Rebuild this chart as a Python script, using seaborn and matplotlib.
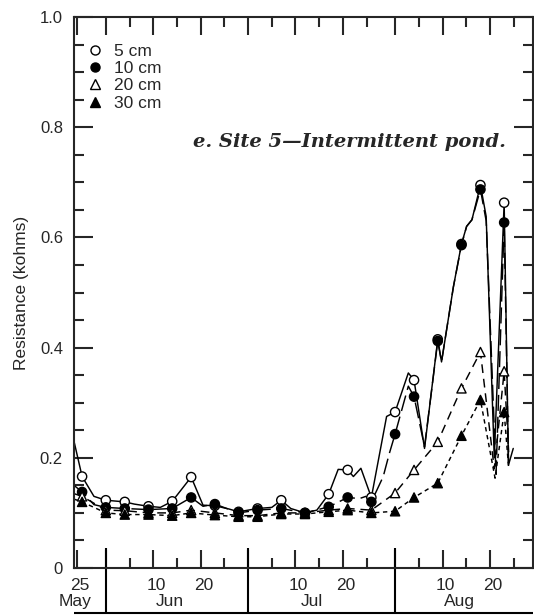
import matplotlib
matplotlib.use("Agg")
import matplotlib.pyplot as plt
import matplotlib.dates as mdates
import matplotlib.transforms as mtransforms
from matplotlib.lines import Line2D
from matplotlib.ticker import FixedLocator, MultipleLocator, FuncFormatter
import pandas as pd
import seaborn as sns

YEAR = "1993-"

depths = ["5 cm", "10 cm", "20 cm", "30 cm"]

# Probe reading dates (MM-DD)
read_dates = ["05-27", "06-01", "06-05", "06-10", "06-15", "06-19", "06-24", "06-29",
              "07-03", "07-08", "07-13", "07-18", "07-22", "07-27", "08-01", "08-05",
              "08-10", "08-15", "08-19", "08-24"]

# Resistance (kohms) at each reading date
read_5cm = [0.166, 0.123, 0.120, 0.112, 0.121, 0.165, 0.113, 0.102, 0.108, 0.123,
            0.100, 0.134, 0.178, 0.128, 0.283, 0.341, 0.415, 0.588, 0.695, 0.663]
read_10cm = [0.138, 0.110, 0.108, 0.106, 0.108, 0.128, 0.116, 0.100, 0.105, 0.108,
             0.100, 0.111, 0.128, 0.120, 0.243, 0.311, 0.412, 0.586, 0.687, 0.627]
read_20cm = [0.130, 0.105, 0.104, 0.100, 0.100, 0.105, 0.100, 0.095, 0.095, 0.100,
             0.100, 0.105, 0.108, 0.105, 0.136, 0.178, 0.229, 0.326, 0.392, 0.357]
read_30cm = [0.120, 0.100, 0.097, 0.097, 0.095, 0.100, 0.096, 0.093, 0.093, 0.098,
             0.098, 0.102, 0.105, 0.100, 0.103, 0.128, 0.154, 0.240, 0.305, 0.283]

# Additional points of the continuous record between readings
extra_5cm_dates = ["05-25 07:00", "05-29 12:00", "06-07", "06-12 12:00", "06-21 12:00",
                   "06-27", "07-06", "07-10", "07-15 12:00", "07-20", "07-23 05:00",
                   "07-24 19:00", "07-30 05:00", "08-03 19:00", "08-07 05:00",
                   "08-10 19:00", "08-13 07:00", "08-16 02:00", "08-17 05:00",
                   "08-20 05:00", "08-21 22:00", "08-24 22:00", "08-25 22:00"]
extra_5cm = [0.23, 0.13, 0.116, 0.110, 0.114, 0.107, 0.110, 0.108, 0.105, 0.179, 0.166,
             0.181, 0.275, 0.354, 0.217, 0.374, 0.51, 0.62, 0.632, 0.638, 0.20, 0.187, 0.217]

extra_10cm_dates = ["05-25 07:00", "05-29 12:00", "06-21 12:00", "07-24 12:00",
                    "07-25 20:00", "07-29 12:00", "07-30 19:00", "08-03 19:00",
                    "08-07 05:00", "08-10 19:00", "08-13 07:00", "08-16 02:00",
                    "08-17 05:00", "08-20 05:00", "08-22 07:00", "08-24 22:00"]
extra_10cm = [0.15, 0.115, 0.112, 0.126, 0.130, 0.166, 0.208, 0.33, 0.22, 0.374, 0.51,
              0.62, 0.632, 0.63, 0.17, 0.19]

extra_20cm_dates = ["05-25 07:00", "08-21 22:00", "08-24 23:00"]
extra_20cm = [0.135, 0.18, 0.21]

extra_30cm_dates = ["05-25 07:00", "08-22 02:00", "08-24 22:00"]
extra_30cm = [0.125, 0.163, 0.185]

# Axis labelling
month_starts = ["06-01", "07-01", "08-01"]
major_ticks = ["05-26", "06-01", "06-11", "06-21", "07-01", "07-11", "07-21",
               "08-01", "08-11", "08-21"]
minor_ticks = ["06-06", "06-16", "06-26", "07-06", "07-16", "07-26",
               "08-06", "08-16", "08-26"]
day_labels = ["25", "10", "20", "10", "20", "10", "20"]
day_label_pos = ["05-26", "06-11", "06-21", "07-11", "07-21", "08-11", "08-21"]
month_labels = ["May", "Jun", "Jul", "Aug"]
month_label_pos = ["05-25 12:00", "06-14 12:00", "07-14 12:00", "08-14 12:00"]
y_ticks = [0.0, 0.2, 0.4, 0.6, 0.8, 1.0]


def stamp(s):
    return pd.Timestamp(YEAR + s)


def num(s):
    return mdates.date2num(stamp(s))


sns.set_style("ticks")
plt.rcParams["font.family"] = ["Liberation Sans", "DejaVu Sans"]
plt.rcParams["axes.linewidth"] = 1.5

reads_list = [read_5cm, read_10cm, read_20cm, read_30cm]
extras = [(extra_5cm_dates, extra_5cm), (extra_10cm_dates, extra_10cm),
          (extra_20cm_dates, extra_20cm), (extra_30cm_dates, extra_30cm)]

reads = pd.concat(
    [pd.DataFrame({"date": [stamp(d) for d in read_dates], "value": v, "depth": name})
     for name, v in zip(depths, reads_list)],
    ignore_index=True)

trace = pd.concat(
    [reads] +
    [pd.DataFrame({"date": [stamp(d) for d in ed], "value": ev, "depth": name})
     for name, (ed, ev) in zip(depths, extras)],
    ignore_index=True).sort_values("date")

fig = plt.figure(figsize=(5.34, 6.16), dpi=100)
ax = fig.add_axes([74 / 534, 48 / 616, 459 / 534, 551 / 616])

dash_styles = {"5 cm": "", "10 cm": (11, 4), "20 cm": (6, 4), "30 cm": (3, 2.5)}
sns.lineplot(data=trace, x="date", y="value", style="depth", style_order=depths,
             dashes=dash_styles, color="black", linewidth=1.05, estimator=None,
             sort=True, legend=False, ax=ax)

fills = {"5 cm": "white", "10 cm": "black", "20 cm": "white", "30 cm": "black"}
shapes = {"5 cm": "o", "10 cm": "o", "20 cm": "^", "30 cm": "^"}
sns.scatterplot(data=reads, x="date", y="value", hue="depth", style="depth",
                hue_order=depths, style_order=depths, palette=fills, markers=shapes,
                s=44, edgecolor="black", linewidth=1.0, legend=False, ax=ax, zorder=3)

ax.set_xlim(num("05-25 07:00"), num("08-30 02:00"))
ax.set_ylim(0, 1.0)
ax.set_xlabel("")
ax.set_ylabel("Resistance (kohms)", fontsize=12.5)
ax.yaxis.set_label_coords(-0.098, 0.5)

# Axis ticks, all pointing inward on every side
ax.xaxis.set_major_locator(FixedLocator([num(s) for s in major_ticks]))
ax.xaxis.set_minor_locator(FixedLocator([num(s) for s in minor_ticks]))
ax.tick_params(axis="x", which="both", direction="in", top=True, bottom=True,
               labelbottom=False, width=1.5)
ax.tick_params(axis="x", which="major", length=13)
ax.tick_params(axis="x", which="minor", length=7)

ax.yaxis.set_major_locator(FixedLocator(y_ticks))
ax.yaxis.set_minor_locator(MultipleLocator(0.05))
ax.yaxis.set_major_formatter(FuncFormatter(lambda v, p: "0" if v == 0 else f"{v:.1f}"))
ax.tick_params(axis="y", which="both", direction="in", left=True, right=True,
               width=1.5, labelsize=12, pad=8)
ax.tick_params(axis="y", which="major", length=14)
ax.tick_params(axis="y", which="minor", length=7)
for sp in ax.spines.values():
    sp.set_visible(True)
    sp.set_linewidth(1.5)

# Month dividers and the date band under the axis
axes_h = 551.0
trans = mtransforms.blended_transform_factory(ax.transData, ax.transAxes)
for m in month_starts:
    ax.plot([num(m), num(m)], [-45 / axes_h, 20 / axes_h], transform=trans,
            color="black", lw=1.5, clip_on=False, solid_capstyle="butt")
ax.plot([0, 1], [-45 / axes_h, -45 / axes_h], transform=ax.transAxes,
        color="black", lw=1.5, clip_on=False, solid_capstyle="butt")

for lab, pos in zip(day_labels, day_label_pos):
    ax.text(num(pos) + 0.6, -18 / axes_h, lab, transform=trans, ha="center",
            va="center", fontsize=12.5)
for lab, pos in zip(month_labels, month_label_pos):
    ax.text(num(pos), -33.5 / axes_h, lab, transform=trans, ha="center",
            va="center", fontsize=12.5)

# Legend (markers only)
handles = [Line2D([], [], ls="none", marker=shapes[d], markersize=6.5,
                  markerfacecolor=fills[d], markeredgecolor="black", mew=1.0)
           for d in depths]
ax.legend(handles, depths, loc="upper left", bbox_to_anchor=(0.028, 0.952),
          frameon=False, handlelength=0.9, handletextpad=0.65, labelspacing=0.13,
          borderaxespad=0, borderpad=0, fontsize=12.5)

# Panel title
ttrans = mtransforms.blended_transform_factory(ax.transAxes, ax.transData)
ax.text(0.941, 0.764, "e. Site 5\u2014Intermittent pond.", transform=ttrans,
        ha="right", va="baseline", fontsize=14,
        family=["DejaVu Serif", "Liberation Serif"], fontweight="bold",
        fontstyle="italic")

fig.savefig("out.png", dpi=100)
